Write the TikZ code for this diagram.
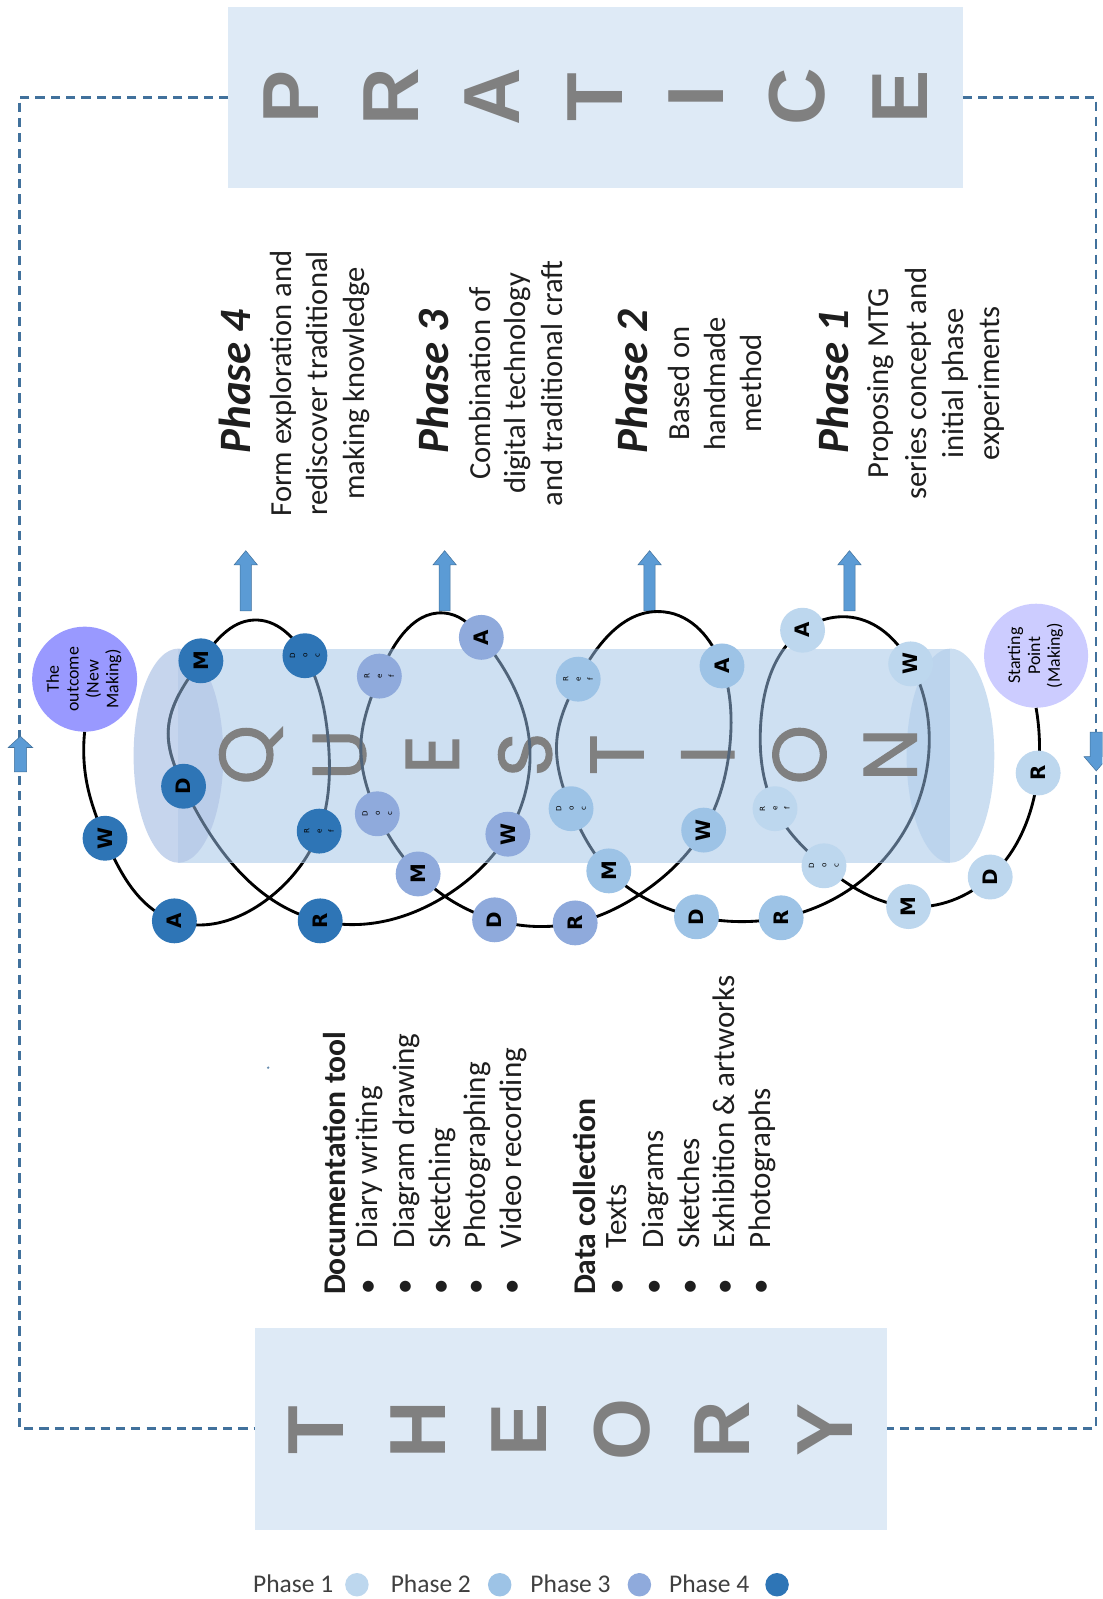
\documentclass[tikz,border=0pt]{standalone}
\usepackage{fontspec}
\setmainfont{Carlito}
\newfontfamily\bigsans{Liberation Sans}
\newfontfamily\geo[FakeBold=1.5]{Poppins}
\newfontfamily\dvs{DejaVu Sans}
\usetikzlibrary{calc,hobby}
\definecolor{pone}{HTML}{BDD7EE}
\definecolor{ptwo}{HTML}{9DC3E6}
\definecolor{pthree}{HTML}{8FAADC}
\definecolor{pfour}{HTML}{2E75B6}
\definecolor{boxfill}{HTML}{DEEAF6}
\definecolor{dashc}{HTML}{41719C}
\definecolor{arrowfill}{HTML}{5B9BD5}
\definecolor{arrowedge}{HTML}{41719C}
\definecolor{cylbody}{HTML}{CEE0F2}
\definecolor{cylleft}{HTML}{B4C7E7}
\definecolor{cylright}{HTML}{B5D0EC}
\definecolor{biggray}{HTML}{808080}
\definecolor{innerline}{HTML}{50647A}
\definecolor{outc}{HTML}{9999FF}
\definecolor{startc}{HTML}{CCCCFF}
\definecolor{txt}{HTML}{1E1E1E}
\newcommand\rotL[1]{\rotatebox{90}{#1}}
\newcommand\stackL[1]{\rotatebox{90}{\begin{tabular}{@{}c@{}}#1\end{tabular}}}
\tikzset{
  boxnode/.style={fill=boxfill, inner sep=0pt, draw=none},
  dashline/.style={draw=dashc, line width=2.4pt, dash pattern=on 9pt off 6pt},
  bigletter/.style={text=biggray, font=\bigsans\bfseries\fontsize{78}{78}\selectfont, rotate=90, inner sep=0pt},
  qletter/.style={text=biggray, font=\geo\fontsize{74}{74}\selectfont, rotate=90, inner sep=0pt},
  stepc/.style={circle, minimum size=44pt, inner sep=0pt, font=\dvs\bfseries\fontsize{19.5}{19.5}\selectfont},
  tinyc/.style={circle, minimum size=44pt, inner sep=0pt, font=\dvs\fontsize{7}{12}\selectfont},
  curve/.style={draw=black, line width=2.8pt},
  phead/.style={rotate=90, inner sep=0pt, text=txt, font=\bfseries\itshape\fontsize{44}{44}\selectfont, text height=0.7em, text depth=0.2em},
  ptext/.style={rotate=90, inner sep=0pt, text=txt, font=\fontsize{30}{35}\selectfont, text height=0.7em, text depth=0.2em},
  ltext/.style={rotate=90, inner sep=0pt, anchor=west, text=txt, font=\fontsize{30.5}{35}\selectfont, text height=0.7em, text depth=0.2em},
  lhead/.style={ltext, font=\bfseries\fontsize{31}{35}\selectfont},
  legtext/.style={anchor=base west, inner sep=0pt, text=txt!85, font=\fontsize{25}{25}\selectfont},
  legdot/.style={circle, minimum size=23pt, inner sep=0pt},
  upblk/.pic={\filldraw[fill=arrowfill, draw=arrowedge, line width=0.5pt] (-5.5,0) -- (-5.5,-45) -- (-11.5,-45) -- (0,-59) -- (11.5,-45) -- (5.5,-45) -- (5.5,0) -- cycle;},
  smallup/.pic={\filldraw[fill=arrowfill, draw=arrowedge, line width=0.5pt] (-6,0) -- (-6,-24) -- (-12,-24) -- (0,-35) -- (12,-24) -- (6,-24) -- (6,0) -- cycle;},
  smalldown/.pic={\filldraw[fill=arrowfill, draw=arrowedge, line width=0.5pt] (-6,0) -- (-6,24) -- (-12,24) -- (0,38) -- (12,24) -- (6,24) -- (6,0) -- cycle;}
}
\begin{document}
\begin{tikzpicture}[x=1pt,y=-1pt]
\useasboundingbox (0,0) rectangle (1081,1568);
\clip (0,0) rectangle (1081,1568);
\fill[white] (0,0) rectangle (1081,1568);

% boxes
\node[boxnode, minimum width=720pt, minimum height=177pt] (prac) at (584,95.5) {};
\node[boxnode, minimum width=620pt, minimum height=198pt] (theo) at (560,1401) {};
\draw[dashline] (prac.west) -- (19,95.5) |- (theo.west);
\draw[dashline] (prac.east) -- (1075,95.5) |- (theo.east);
\pic at (20,757) {smallup};
\pic at (1075,718) {smalldown};

% PRACTICE
\node[bigletter] (pP) at (285,95) {P};
\node[bigletter] (pR) at (384,95) {R};
\node[bigletter] (pA) at (483,95) {A};
\node[bigletter] (pT) at (584,95) {T};
\node[bigletter] (pI) at (683,95) {I};
\node[bigletter] (pC) at (782,95) {C};
\node[bigletter] (pE) at (883,95) {E};
% THEORY
\node[bigletter] (tT) at (310,1402) {T};
\node[bigletter] (tH) at (410,1402) {H};
\node[bigletter] (tE) at (509,1402) {E};
\node[bigletter] (tO) at (610,1402) {O};
\node[bigletter] (tR) at (708,1402) {R};
\node[bigletter] (tY) at (809,1402) {Y};

% phase texts
\node[phead] (h4) at (243,374) {Phase 4};
\node[ptext] (b4a) at (283,376) {Form exploration and};
\node[ptext] (b4b) at (319,376) {rediscover traditional};
\node[ptext] (b4c) at (355,376) {making knowledge};
\node[phead] (h3) at (437,374) {Phase 3};
\node[ptext] (b3a) at (478,376) {Combination of};
\node[ptext] (b3b) at (513,376) {digital technology};
\node[ptext] (b3c) at (549,376) {and traditional craft};
\node[phead] (h2) at (632,374) {Phase 2};
\node[ptext] (b2a) at (674,376) {Based on};
\node[ptext] (b2b) at (709,376) {handmade};
\node[ptext] (b2c) at (744,376) {method};
\node[phead] (h1) at (830,374) {Phase 1};
\node[ptext] (b1a) at (869,376) {Proposing MTG};
\node[ptext] (b1b) at (906,376) {series concept and};
\node[ptext] (b1c) at (942,376) {initial phase};
\node[ptext] (b1d) at (978,376) {experiments};

% phase arrows
\pic at (241,599) {upblk};
\pic at (436,599) {upblk};
\pic at (637,599) {upblk};
\pic at (833,599) {upblk};

% documentation lists
\node[lhead] (doch) at (336,1270) {Documentation tool};
\node[ltext] (d1) at (368,1270) {\makebox[46pt][l]{\textbullet}Diary writing};
\node[ltext] (d2) at (404,1270) {\makebox[46pt][l]{\textbullet}Diagram drawing};
\node[ltext] (d3) at (439,1270) {\makebox[46pt][l]{\textbullet}Sketching};
\node[ltext] (d4) at (474,1270) {\makebox[46pt][l]{\textbullet}Photographing};
\node[ltext] (d5) at (509,1270) {\makebox[46pt][l]{\textbullet}Video recording};
\node[lhead] (dath) at (581,1270) {Data collection};
\node[ltext] (e1) at (612,1270) {\makebox[46pt][l]{\textbullet}Texts};
\node[ltext] (e2) at (648,1270) {\makebox[46pt][l]{\textbullet}Diagrams};
\node[ltext] (e3) at (683,1270) {\makebox[46pt][l]{\textbullet}Sketches};
\node[ltext] (e4) at (718,1270) {\makebox[46pt][l]{\textbullet}Exhibition \& artworks};
\node[ltext] (e5) at (753,1270) {\makebox[46pt][l]{\textbullet}Photographs};
\node[circle, fill=dashc!80, minimum size=2.5pt, inner sep=0pt] (dot) at (263,1047) {};

% end circles
\node[circle, fill=outc, minimum size=103pt, inner sep=0pt, font=\fontsize{17.5}{19.5}\selectfont] (out) at (83,666) {\stackL{The\\outcome\\(New\\Making)}};
\node[circle, fill=startc, minimum size=102pt, inner sep=0pt, font=\fontsize{17.5}{19.5}\selectfont] (start) at (1016,643) {\stackL{Starting\\Point\\(Making)}};

% step coordinates
\coordinate (cW4) at (103,822);  \coordinate (cA4) at (171,903);
\coordinate (cRef4) at (313,815);\coordinate (cDoc4) at (299,643);
\coordinate (cM4) at (197,648);  \coordinate (cD4) at (180,771);
\coordinate (cR4) at (314,903);
\coordinate (cRef3) at (372,663);\coordinate (cA3) at (472,625);
\coordinate (cDoc3) at (370,798);\coordinate (cW3) at (498,818);
\coordinate (cM3) at (410,857);  \coordinate (cD3) at (485,902);
\coordinate (cR3) at (564,905);
\coordinate (cRef2) at (567,666);\coordinate (cA2) at (708,653);
\coordinate (cDoc2) at (560,793);\coordinate (cW2) at (690,814);
\coordinate (cM2) at (597,854);  \coordinate (cD2) at (683,899);
\coordinate (cR2) at (766,900);
\coordinate (cA1) at (787,618);  \coordinate (cW1) at (893,651);
\coordinate (cRef1) at (760,793);\coordinate (cDoc1) at (808,849);
\coordinate (cM1) at (891,889);  \coordinate (cD1) at (971,860);
\coordinate (cR1) at (1018,758);

\def\loopcurve{(out.south) .. (86,772) .. (cW4) .. (cA4) .. (262,882) .. (cRef4) .. (322,728) .. (cDoc4) .. (249,608) .. (cM4) .. (165,716) .. (cD4) .. (cR4) .. (441,876) .. (cW3) .. (519,726) .. (cA3) .. (441,602) .. (cRef3) .. (354,728) .. (cDoc3) .. (cM3) .. (cD3) .. (cR3) .. (629,876) .. (cW2) .. (716,728) .. (cA2) .. (651,600) .. (cRef2) .. (546,726) .. (cDoc2) .. (cM2) .. (cD2) .. (cR2) .. (839,868) .. (911,716) .. (cW1) .. (839,606) .. (cA1) .. (746,709) .. (cRef1) .. (cDoc1) .. (cM1) .. (cD1) .. (cR1) .. (start.south)}
\draw[curve, use Hobby shortcut] \loopcurve;

% cylinder
\fill[cylbody] (175,636) rectangle (932,846);
\fill[cylleft, opacity=0.75] (175,741) ellipse [x radius=44, y radius=105];
\fill[cylright, opacity=0.7] (932,741) ellipse [x radius=43, y radius=105];

% QUESTION
\node[qletter] (qQ) at (246,740) {Q};
\node[qletter] (qU) at (333,740) {U};
\node[qletter] (qE) at (424,740) {E};
\node[qletter] (qS) at (515,740) {S};
\node[qletter] (qT) at (605,740) {T};
\node[qletter] (qI) at (694,740) {I};
\node[qletter] (qO) at (784,740) {O};
\node[qletter] (qN) at (873,740) {N};

\begin{scope}
\clip (175,636) -- (932,636) arc[start angle=-90, end angle=90, x radius=43, y radius=105] -- (175,846) arc[start angle=90, end angle=270, x radius=44, y radius=105] -- cycle;
\draw[curve, draw=innerline, use Hobby shortcut] \loopcurve;
\end{scope}

% step circles
\foreach \n/\c/\t in {W4/pfour/W, A4/pfour/A, M4/pfour/M, D4/pfour/D, R4/pfour/R,
  A3/pthree/A, W3/pthree/W, M3/pthree/M, D3/pthree/D, R3/pthree/R,
  A2/ptwo/A, W2/ptwo/W, M2/ptwo/M, D2/ptwo/D, R2/ptwo/R,
  A1/pone/A, W1/pone/W, M1/pone/M, D1/pone/D, R1/pone/R}
  \node[stepc, fill=\c] (\n) at (c\n) {\rotL{\t}};
\foreach \n/\c in {Doc4/pfour, Doc3/pthree, Doc2/ptwo, Doc1/pone}
  \node[tinyc, fill=\c] (\n) at (c\n) {\stackL{D\\o\\c}};
\foreach \n/\c in {Ref4/pfour, Ref3/pthree, Ref2/ptwo, Ref1/pone}
  \node[tinyc, fill=\c] (\n) at (c\n) {\stackL{R\\e\\f}};

% legend
\node[legtext] (lt1) at (248,1562) {Phase 1};
\node[legdot, fill=pone] (lg1) at (350,1554) {};
\node[legtext] (lt2) at (383,1562) {Phase 2};
\node[legdot, fill=ptwo] (lg2) at (490,1554) {};
\node[legtext] (lt3) at (520,1562) {Phase 3};
\node[legdot, fill=pthree] (lg3) at (627,1554) {};
\node[legtext] (lt4) at (656,1562) {Phase 4};
\node[legdot, fill=pfour] (lg4) at (762,1554) {};
\end{tikzpicture}
\end{document}
